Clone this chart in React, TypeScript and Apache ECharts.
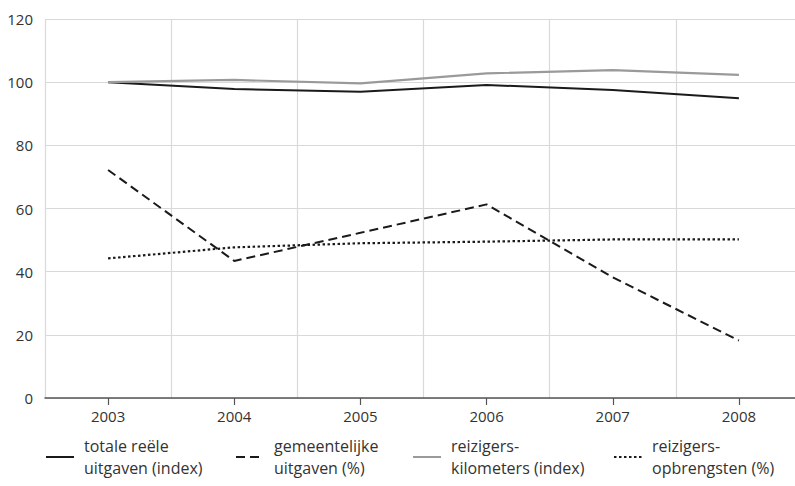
import React, { useEffect, useRef } from "react";
import * as echarts from "echarts";

const years = ["2003", "2004", "2005", "2006", "2007", "2008"];
const totaleUitgaven = [100, 97.8, 97.0, 99.1, 97.5, 94.9];
const gemeentelijkeUitgaven = [72.2, 43.4, 52.3, 61.3, 38.2, 18.2];
const reizigersKilometers = [100, 100.7, 99.6, 102.8, 103.8, 102.3];
const reizigersOpbrengsten = [44.2, 47.7, 49.0, 49.5, 50.2, 50.2];

const names = [
  "totale reële\nuitgaven (index)",
  "gemeentelijke\nuitgaven (%)",
  "reizigers-\nkilometers (index)",
  "reizigers-\nopbrengsten (%)",
];
const legendLefts = [45, 235, 412, 613];

const FONT = "Open Sans";

export default function App() {
  const ref = useRef<HTMLDivElement>(null);
  useEffect(() => {
    if (!ref.current) return;
    const chart = echarts.init(ref.current, undefined, { renderer: "svg" });
    const mk = (name: string, data: number[], color: string, width: number, type: any) => ({
      name,
      type: "line",
      data,
      symbol: "none",
      showSymbol: false,
      lineStyle: { color, width, type, cap: "butt" },
      itemStyle: { color },
      emphasis: { disabled: true },
    });
    chart.setOption({
      animation: false,
      backgroundColor: "#ffffff",
      textStyle: { fontFamily: FONT },
      grid: {
        left: 45,
        top: 19,
        width: 757,
        height: 379,
        containLabel: false,
        outerBoundsMode: "none",
      },
      xAxis: {
        type: "category",
        data: years,
        boundaryGap: true,
        axisLine: { show: true, lineStyle: { color: "#555555", width: 1.5 } },
        axisTick: { show: true, alignWithLabel: true, length: 7, lineStyle: { color: "#555555", width: 1.2 } },
        axisLabel: { color: "#333333", fontSize: 15, margin: 10, fontFamily: FONT },
        splitLine: { show: true, lineStyle: { color: "#d9d9d9", width: 1.2 } },
      },
      yAxis: {
        type: "value",
        min: 0,
        max: 120,
        interval: 20,
        axisLine: { show: false },
        axisTick: { show: false },
        axisLabel: { color: "#333333", fontSize: 15, margin: 12, fontFamily: FONT, padding: [0, 0, 4, 0] },
        splitLine: { show: true, lineStyle: { color: "#d9d9d9", width: 1.2 } },
      },
      legend: names.map((n, i) => ({
        data: [n],
        left: legendLefts[i],
        top: 424,
        padding: 0,
        itemWidth: 28,
        itemHeight: 14,
        itemGap: 0,
        selectedMode: false,
        itemStyle: { opacity: 0 },
        textStyle: {
          color: "#333333",
          fontSize: 16,
          lineHeight: 22,
          fontFamily: FONT,
          padding: [22, 0, 0, 5],
        },
      })),
      series: [
        mk(names[0], totaleUitgaven, "#1a1a1a", 2, "solid"),
        mk(names[1], gemeentelijkeUitgaven, "#1a1a1a", 2, [9, 5]),
        mk(names[2], reizigersKilometers, "#9a9a9a", 2.2, "solid"),
        mk(names[3], reizigersOpbrengsten, "#1a1a1a", 2.2, [2.5, 2.5]),
      ],
    });
    return () => chart.dispose();
  }, []);
  return (
    <div
      ref={ref}
      style={{ position: "fixed", left: 0, top: 0, width: 795, height: 486 }}
    />
  );
}
